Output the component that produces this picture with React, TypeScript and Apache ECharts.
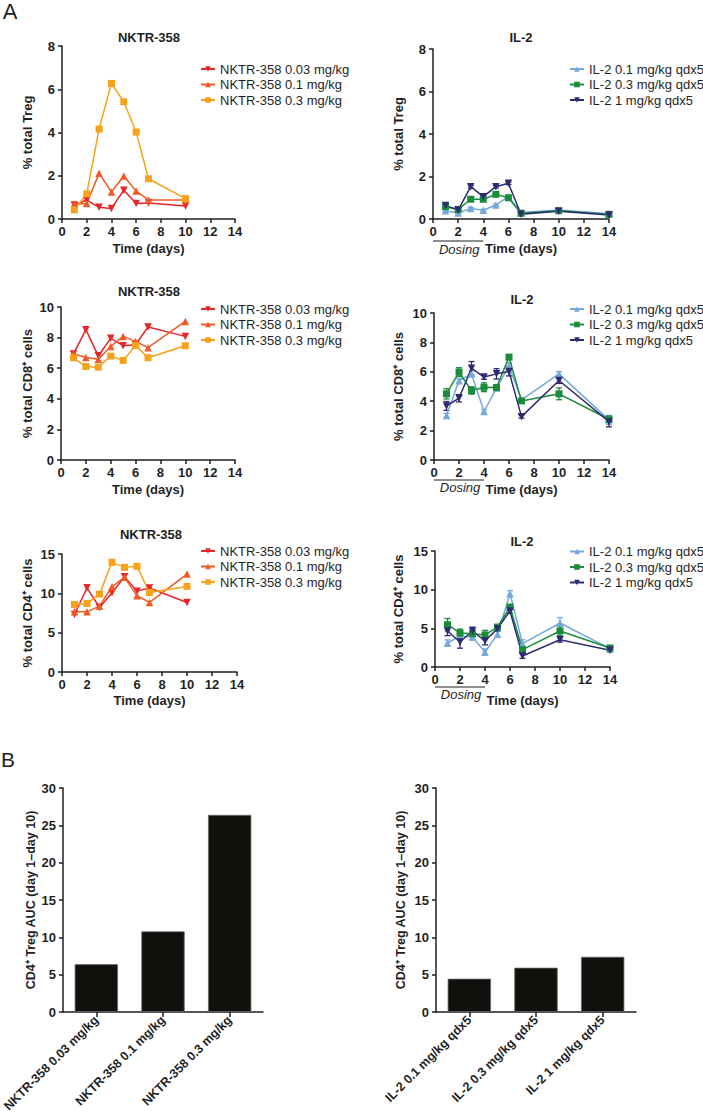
import React, { useEffect, useRef } from 'react';
import * as echarts from 'echarts';

// ---------- data ----------
const nktrDays = [1, 2, 3, 4, 5, 6, 7, 10];
const il2Days = [1, 2, 3, 4, 5, 6, 7, 10, 14];

const nktrNames = ['NKTR-358 0.03 mg/kg', 'NKTR-358 0.1 mg/kg', 'NKTR-358 0.3 mg/kg'];
const il2Names = ['IL-2 0.1 mg/kg qdx5', 'IL-2 0.3 mg/kg qdx5', 'IL-2 1 mg/kg qdx5'];

// % total Treg
const nktrTreg003 = [0.65, 0.88, 0.54, 0.49, 1.33, 0.72, 0.74, 0.6];
const nktrTreg01 = [0.69, 0.72, 2.11, 1.25, 1.99, 1.29, 0.88, 0.88];
const nktrTreg03 = [0.42, 1.16, 4.16, 6.27, 5.42, 4.02, 1.86, 0.94];
const il2Treg01 = [0.39, 0.28, 0.5, 0.41, 0.66, 1.05, 0.31, 0.42, 0.25];
const il2Treg03 = [0.58, 0.45, 0.93, 0.93, 1.16, 1.0, 0.27, 0.39, 0.22];
const il2Treg1 = [0.63, 0.42, 1.52, 1.05, 1.52, 1.68, 0.22, 0.36, 0.19];
const il2TregErr01 = [0.05, 0.04, 0.05, 0.04, 0.05, 0.06, 0.04, 0.05, 0.04];
const il2TregErr03 = [0.06, 0.05, 0.05, 0.05, 0.06, 0.06, 0.04, 0.05, 0.04];
const il2TregErr1 = [0.08, 0.05, 0.06, 0.05, 0.06, 0.06, 0.04, 0.05, 0.04];

// % total CD8+ cells
const nktrCD8003 = [6.92, 8.52, 6.81, 7.95, 7.47, 7.53, 8.69, 8.08];
const nktrCD801 = [6.94, 6.7, 6.59, 7.42, 8.08, 7.75, 7.34, 9.06];
const nktrCD803 = [6.68, 6.11, 6.07, 6.79, 6.51, 7.49, 6.68, 7.47];
const il2CD801 = [3.02, 5.39, 5.86, 3.3, 4.89, 6.41, 4.09, 5.86, 2.73];
const il2CD803 = [4.5, 5.98, 4.73, 4.95, 4.93, 7.0, 4.02, 4.5, 2.77];
const il2CD81 = [3.68, 4.2, 6.25, 5.64, 5.86, 6.02, 2.95, 5.41, 2.61];
const il2CD8Err01 = [0.15, 0.15, 0.2, 0.1, 0.15, 0.2, 0.1, 0.15, 0.3];
const il2CD8Err03 = [0.35, 0.3, 0.25, 0.3, 0.2, 0.15, 0.1, 0.4, 0.2];
const il2CD8Err1 = [0.3, 0.25, 0.45, 0.15, 0.35, 0.3, 0.1, 0.2, 0.35];

// % total CD4+ cells
const nktrCD4003 = [7.31, 10.7, 8.2, 10.07, 12.11, 10.28, 10.67, 8.84];
const nktrCD401 = [7.65, 7.65, 8.37, 10.84, 12.03, 9.69, 8.84, 12.45];
const nktrCD403 = [8.58, 8.71, 9.9, 13.94, 13.3, 13.43, 10.11, 10.88];
const il2CD401 = [3.1, 4.0, 3.88, 1.94, 4.22, 9.48, 3.02, 5.69, 2.37];
const il2CD403 = [5.47, 4.4, 4.31, 4.14, 5.17, 7.76, 2.24, 4.66, 2.46];
const il2CD41 = [4.66, 3.23, 4.66, 3.36, 4.96, 7.24, 1.42, 3.53, 2.16];
const il2CD4Err01 = [0.4, 0.3, 0.4, 0.4, 0.4, 0.4, 0.5, 0.7, 0.2];
const il2CD4Err03 = [0.8, 0.5, 0.4, 0.6, 0.3, 0.3, 0.3, 0.6, 0.2];
const il2CD4Err1 = [0.6, 0.8, 0.5, 0.5, 0.3, 0.3, 0.3, 0.3, 0.2];

// AUC bars
const nktrAuc = [6.4, 10.8, 26.4];
const il2Auc = [4.46, 5.93, 7.4];

// ---------- styles ----------
const FONT = 'Arial, "Liberation Sans", Helvetica, sans-serif';
const INK = '#1f1f1f';
const nktrColors = ['#e5262a', '#f15a24', '#f7a21b'];
const il2Colors = ['#74a9dc', '#1a8c3c', '#2e2b70'];
const nktrSyms = [
  { s: 'triangle', r: 180 },
  { s: 'triangle', r: 0 },
  { s: 'rect', r: 0 },
];
const il2Syms = [
  { s: 'triangle', r: 0 },
  { s: 'rect', r: 0 },
  { s: 'triangle', r: 180 },
];

type Panel = {
  grid: { left: number; top: number; width: number; height: number };
  yMax: number;
  yInt: number;
  yName: string;
  yGap: number;
  xGap: number;
  days: number[];
  values: number[][];
  errs?: number[][];
  il2: boolean;
  legendLeft: number;
  legendTop: number;
  title: string;
  titleX: number;
  titleY: number;
  dosing?: { line: number; text: number };
};

const panels: Panel[] = [
  {
    grid: { left: 62, top: 46, width: 173, height: 173 },
    yMax: 8, yInt: 2, yName: '% total Treg', yGap: 28, xGap: 23,
    days: nktrDays, values: [nktrTreg003, nktrTreg01, nktrTreg03], il2: false,
    legendLeft: 200, legendTop: 62.5, title: 'NKTR-358', titleX: 149, titleY: 37,
  },
  {
    grid: { left: 433, top: 49, width: 176, height: 170 },
    yMax: 8, yInt: 2, yName: '% total Treg', yGap: 28, xGap: 23,
    days: il2Days, values: [il2Treg01, il2Treg03, il2Treg1], errs: [il2TregErr01, il2TregErr03, il2TregErr1], il2: true,
    legendLeft: 569, legendTop: 62.5, title: 'IL-2', titleX: 521, titleY: 37,
    dosing: { line: 22, text: 30 },
  },
  {
    grid: { left: 61, top: 307, width: 174, height: 153 },
    yMax: 10, yInt: 2, yName: '% total CD8⁺ cells', yGap: 27, xGap: 23,
    days: nktrDays, values: [nktrCD8003, nktrCD801, nktrCD803], il2: false,
    legendLeft: 200, legendTop: 302.5, title: 'NKTR-358', titleX: 149, titleY: 291,
  },
  {
    grid: { left: 434, top: 313, width: 175, height: 147 },
    yMax: 10, yInt: 2, yName: '% total CD8⁺ cells', yGap: 29, xGap: 23,
    days: il2Days, values: [il2CD801, il2CD803, il2CD81], errs: [il2CD8Err01, il2CD8Err03, il2CD8Err1], il2: true,
    legendLeft: 569, legendTop: 302.5, title: 'IL-2', titleX: 522, titleY: 299,
    dosing: { line: 20, text: 27 },
  },
  {
    grid: { left: 62, top: 554, width: 175, height: 118 },
    yMax: 15, yInt: 5, yName: '% total CD4⁺ cells', yGap: 28, xGap: 22,
    days: nktrDays, values: [nktrCD4003, nktrCD401, nktrCD403], il2: false,
    legendLeft: 200, legendTop: 544.5, title: 'NKTR-358', titleX: 151, titleY: 534,
  },
  {
    grid: { left: 435, top: 551, width: 175, height: 116 },
    yMax: 15, yInt: 5, yName: '% total CD4⁺ cells', yGap: 30, xGap: 27,
    days: il2Days, values: [il2CD401, il2CD403, il2CD41], errs: [il2CD4Err01, il2CD4Err03, il2CD4Err1], il2: true,
    legendLeft: 569, legendTop: 545, title: 'IL-2', titleX: 522, titleY: 541,
    dosing: { line: 20, text: 27 },
  },
];

const barPanels = [
  { grid: { left: 63, top: 788, width: 200, height: 224 }, cats: nktrNames, values: nktrAuc, yGap: 23 },
  { grid: { left: 436, top: 788, width: 200, height: 224 }, cats: il2Names, values: il2Auc, yGap: 29 },
];

const tickLabel = { fontFamily: FONT, fontSize: 13, fontWeight: 'bold', color: INK };
const axisLine = { show: true, onZero: false, lineStyle: { color: INK, width: 1.5 } };
const axisTick = { show: true, length: 4, lineStyle: { color: INK, width: 1.5 } };
const nameStyle = { fontFamily: FONT, fontSize: 13, fontWeight: 'bold', color: INK };

function buildOption() {
  const grid: any[] = [];
  const xAxis: any[] = [];
  const yAxis: any[] = [];
  const series: any[] = [];
  const legend: any[] = [];

  panels.forEach((p, i) => {
    grid.push({ ...p.grid, containLabel: false, outerBoundsMode: 'none' });
    xAxis.push({
      type: 'value', gridIndex: i, min: 0, max: 14, interval: 2,
      name: 'Time (days)', nameLocation: 'middle', nameGap: p.xGap, nameTextStyle: nameStyle,
      axisLine, axisTick, splitLine: { show: false },
      axisLabel: { ...tickLabel, margin: 6 },
    });
    yAxis.push({
      type: 'value', gridIndex: i, min: 0, max: p.yMax, interval: p.yInt,
      name: p.yName, nameLocation: 'middle', nameGap: p.yGap, nameTextStyle: nameStyle,
      axisLine, axisTick, splitLine: { show: false },
      axisLabel: { ...tickLabel, margin: 7 },
    });
    const names = p.il2 ? il2Names : nktrNames;
    const colors = p.il2 ? il2Colors : nktrColors;
    const syms = p.il2 ? il2Syms : nktrSyms;
    p.values.forEach((vals, k) => {
      if (p.errs) {
        const errs = p.errs[k];
        const col = colors[k];
        series.push({
          type: 'custom', name: 'err' + i + '-' + k, xAxisIndex: i, yAxisIndex: i,
          data: p.days.map((d, j) => [d, vals[j], errs[j]]),
          encode: { x: 0, y: 1 },
          z: 3,
          renderItem: (params: any, api: any) => {
            const x = api.value(0);
            const y = api.value(1);
            const e = api.value(2);
            const top = api.coord([x, y + e]);
            const bot = api.coord([x, y - e]);
            const hw = 3;
            const st = { stroke: col, lineWidth: 1.3 };
            return {
              type: 'group',
              children: [
                { type: 'line', shape: { x1: top[0], y1: top[1], x2: bot[0], y2: bot[1] }, style: st },
                { type: 'line', shape: { x1: top[0] - hw, y1: top[1], x2: top[0] + hw, y2: top[1] }, style: st },
                { type: 'line', shape: { x1: bot[0] - hw, y1: bot[1], x2: bot[0] + hw, y2: bot[1] }, style: st },
              ],
            };
          },
        });
      }
      series.push({
        type: 'line', name: names[k], xAxisIndex: i, yAxisIndex: i,
        data: p.days.map((d, j) => [d, vals[j]]),
        symbol: syms[k].s, symbolRotate: syms[k].r, symbolSize: syms[k].s === 'rect' ? 7 : 7.5,
        showAllSymbol: true,
        itemStyle: { color: colors[k] },
        lineStyle: { color: colors[k], width: 1.5 },
        z: 4,
      });
    });
    legend.push({
      data: names, orient: 'vertical', left: p.legendLeft, top: p.legendTop,
      itemWidth: 14, itemHeight: 7, itemGap: 2.5, padding: 0, selectedMode: false,
      textStyle: { fontFamily: FONT, fontSize: 13, color: INK, lineHeight: 13 },
    });
  });

  barPanels.forEach((b, bi) => {
    const i = panels.length + bi;
    grid.push({ ...b.grid, containLabel: false, outerBoundsMode: 'none' });
    xAxis.push({
      type: 'category', gridIndex: i, data: b.cats,
      axisLine, axisTick: { ...axisTick, alignWithLabel: true, length: 5 },
      axisLabel: { ...tickLabel, fontSize: 12.5, rotate: 45, interval: 0, margin: 6 },
      splitLine: { show: false },
    });
    yAxis.push({
      type: 'value', gridIndex: i, min: 0, max: 30, interval: 5,
      name: 'CD4⁺ Treg AUC (day 1–day 10)', nameLocation: 'middle', nameGap: b.yGap,
      nameTextStyle: { ...nameStyle, fontSize: 12.5 },
      axisLine, axisTick, splitLine: { show: false },
      axisLabel: { ...tickLabel, margin: 7 },
    });
    series.push({
      type: 'bar', name: 'auc' + bi, xAxisIndex: i, yAxisIndex: i, data: b.values,
      barWidth: '65%',
      itemStyle: { color: '#12100d', borderColor: '#6a6a6a', borderWidth: 0.8 },
    });
  });

  return { animation: false, backgroundColor: '#ffffff', grid, xAxis, yAxis, series, legend };
}

export default function App() {
  const ref = useRef<HTMLDivElement>(null);
  useEffect(() => {
    if (!ref.current) return;
    const chart = echarts.init(ref.current, undefined, { renderer: 'svg' });
    chart.setOption(buildOption());

    const elements: any[] = [];
    elements.push({
      type: 'text', x: 10, y: 11,
      style: { text: 'A', fontFamily: FONT, fontSize: 22, fill: INK, align: 'center', verticalAlign: 'middle', textAlign: 'center', textVerticalAlign: 'middle' },
    });
    elements.push({
      type: 'text', x: 8, y: 759,
      style: { text: 'B', fontFamily: FONT, fontSize: 21, fill: INK, align: 'center', verticalAlign: 'middle', textAlign: 'center', textVerticalAlign: 'middle' },
    });
    panels.forEach((p, i) => {
      elements.push({
        type: 'text', x: p.titleX, y: p.titleY,
        style: { text: p.title, fontFamily: FONT, fontSize: 13, fontWeight: 'bold', fill: INK, align: 'center', verticalAlign: 'middle', textAlign: 'center', textVerticalAlign: 'middle' },
      });
      if (p.dosing) {
        const a = chart.convertToPixel({ gridIndex: i }, [0, 0]) as number[];
        const b = chart.convertToPixel({ gridIndex: i }, [4, 0]) as number[];
        if (a && b) {
          elements.push({
            type: 'line',
            shape: { x1: a[0], y1: a[1] + p.dosing.line, x2: b[0], y2: b[1] + p.dosing.line },
            style: { stroke: INK, lineWidth: 1.2 },
          });
          elements.push({
            type: 'text', x: (a[0] + b[0]) / 2 + 1, y: a[1] + p.dosing.text,
            style: { text: 'Dosing', fontFamily: FONT, fontSize: 13, fontStyle: 'italic', fill: INK, align: 'center', verticalAlign: 'middle', textAlign: 'center', textVerticalAlign: 'middle' },
          });
        }
      }
    });
    chart.setOption({ graphic: { elements } });
    return () => chart.dispose();
  }, []);
  return <div ref={ref} style={{ position: 'absolute', left: 0, top: 0, width: 703, height: 1117 }} />;
}
